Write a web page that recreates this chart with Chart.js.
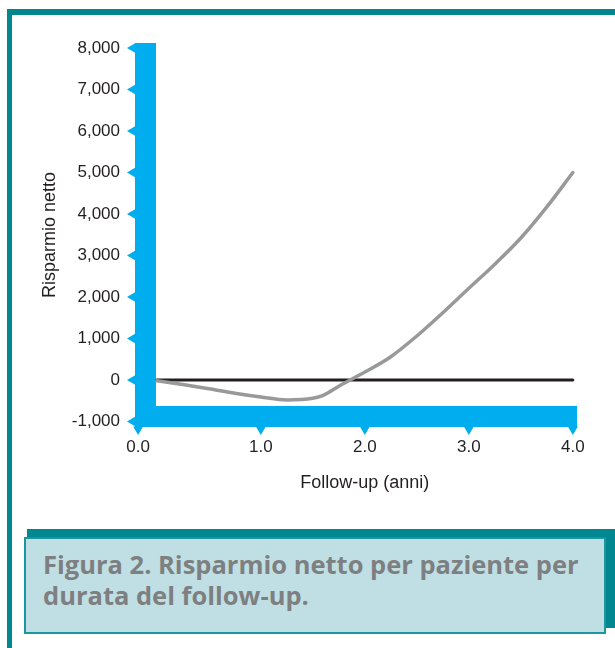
<!DOCTYPE html>
<html>
<head>
<meta charset="utf-8">
<script src="https://cdn.jsdelivr.net/npm/chart.js@4"></script>
<style>
  html, body { margin: 0; padding: 0; background: #fff; width: 615px; height: 648px; overflow: hidden; }
  #frameTop { position: absolute; left: 7px; top: 9px; width: 608px; height: 6px; background: #00878f; }
  #frameLeft { position: absolute; left: 7px; top: 9px; width: 5px; height: 639px; background: #00878f; }
  #chart { position: absolute; left: 0; top: 0; }
  #capShadow { position: absolute; left: 27px; top: 529px; width: 588px; height: 99px; background: #00878f; }
  #caption {
    position: absolute; left: 24px; top: 537px; width: 582px; height: 97px;
    box-sizing: border-box; border: 2px solid #1b969f; background: #c0dfe4;
    padding: 10px 0 0 17px;
    font-family: "Open Sans", Lato, sans-serif; font-weight: bold; font-size: 25.5px; line-height: 31px;
    color: #7e7f81; white-space: nowrap;
  }
</style>
</head>
<body>
<div id="frameTop"></div>
<div id="frameLeft"></div>
<canvas id="chart" width="615" height="500"></canvas>
<div id="capShadow"></div>
<div id="caption">Figura 2. Risparmio netto per paziente per<br>durata del follow-up.</div>
<script>
// Net saving per patient (y) against years of follow-up (x)
const followUpYears = [0, 0.25, 0.5, 0.75, 1.0, 1.25, 1.5, 1.6, 1.75, 2.0, 2.25, 2.5, 2.75, 3.0, 3.25, 3.5, 3.75, 4.0];
const netSavings    = [-20, -110, -210, -320, -410, -480, -440, -370, -150, 190, 560, 1060, 1620, 2210, 2790, 3420, 4170, 5000];

// Break-even reference line
const baselineYears  = [0, 4];
const baselineValues = [0, 0];

// Axis ticks; the "0.0" label sits on the corner of the axes
const xTickLabels = ['0.0', '1.0', '2.0', '3.0', '4.0'];
const xTickValues = [-0.18, 1, 2, 3, 4];
const yTickValues = [-1000, 0, 1000, 2000, 3000, 4000, 5000, 6000, 7000, 8000];

const xTitle = 'Follow-up (anni)';
const yTitle = 'Risparmio netto';

const AXIS_BLUE = '#00aeef';
const INK = '#231f20';
const BAR = 21;
const FONT = "'Liberation Sans', Arial, sans-serif";

Chart.defaults.font.family = FONT;
Chart.defaults.font.size = 17;
Chart.defaults.color = INK;

const toPoints = (xs, ys) => xs.map((x, i) => ({ x, y: ys[i] }));

// Thick blue L-shaped axes with triangular tick marks, plus the x-axis title
const axisDecor = {
  id: 'axisDecor',
  beforeDatasetsDraw(chart) {
    const { ctx, chartArea: { left, top, right, bottom }, scales: { x, y } } = chart;
    ctx.save();
    ctx.fillStyle = AXIS_BLUE;
    ctx.fillRect(left, top, BAR, bottom - top);
    ctx.fillRect(left, bottom - BAR, right - left, BAR);
    y.ticks.forEach(t => {
      const py = y.getPixelForValue(t.value);
      ctx.beginPath();
      ctx.moveTo(left + 0.5, py - 5);
      ctx.lineTo(left - 8, py);
      ctx.lineTo(left + 0.5, py + 5);
      ctx.closePath();
      ctx.fill();
    });
    x.ticks.forEach(t => {
      const px = x.getPixelForValue(t.value);
      ctx.beginPath();
      ctx.moveTo(px - 5, bottom - 0.5);
      ctx.lineTo(px, bottom + 8);
      ctx.lineTo(px + 5, bottom - 0.5);
      ctx.closePath();
      ctx.fill();
    });
    ctx.restore();
  },
  afterDraw(chart) {
    const { ctx, chartArea: { bottom }, scales: { x } } = chart;
    const mid = (x.getPixelForValue(followUpYears[0]) + x.getPixelForValue(followUpYears[followUpYears.length - 1])) / 2;
    ctx.save();
    ctx.font = '18px ' + FONT;
    ctx.fillStyle = INK;
    ctx.textAlign = 'center';
    ctx.textBaseline = 'middle';
    ctx.fillText(xTitle, mid, bottom + 56);
    ctx.restore();
  }
};

new Chart(document.getElementById('chart'), {
  type: 'line',
  data: {
    datasets: [
      {
        data: toPoints(followUpYears, netSavings),
        borderColor: '#98999b',
        borderWidth: 3.5,
        borderCapStyle: 'round',
        borderJoinStyle: 'round',
        pointRadius: 0,
        cubicInterpolationMode: 'monotone',
        order: 0
      },
      {
        data: toPoints(baselineYears, baselineValues),
        borderColor: INK,
        borderWidth: 3,
        borderCapStyle: 'round',
        pointRadius: 0,
        order: 1
      }
    ]
  },
  options: {
    responsive: false,
    animation: false,
    layout: { padding: { left: 0, top: 43, right: 38, bottom: 0 } },
    plugins: { legend: { display: false }, tooltip: { enabled: false } },
    scales: {
      x: {
        type: 'linear',
        min: -0.21,
        max: 4.04,
        grid: { display: false, drawTicks: false },
        border: { display: false },
        afterBuildTicks: s => { s.ticks = xTickValues.map(v => ({ value: v })); },
        afterFit: s => { s.height = 73; },
        ticks: {
          padding: 10,
          autoSkip: false,
          maxRotation: 0,
          callback: (v, i) => xTickLabels[i]
        }
      },
      y: {
        min: -1133,
        max: 8120,
        grid: { display: false, drawTicks: false },
        border: { display: false },
        afterBuildTicks: s => { s.ticks = yTickValues.map(v => ({ value: v })); },
        afterFit: s => { s.width = 135; },
        ticks: {
          padding: 15,
          callback: v => v.toLocaleString('en-US')
        },
        title: {
          display: true,
          text: yTitle,
          font: { size: 18 },
          padding: { top: 39, bottom: 0 }
        }
      }
    }
  },
  plugins: [axisDecor]
});
</script>
</body>
</html>
